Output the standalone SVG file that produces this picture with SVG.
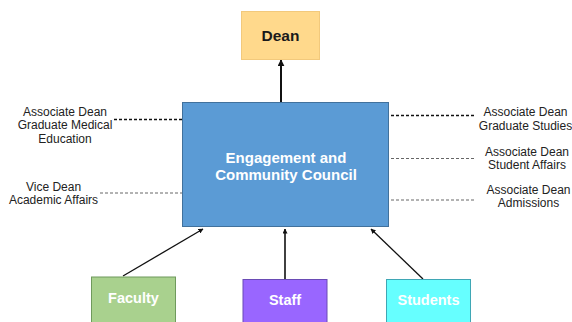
<svg xmlns="http://www.w3.org/2000/svg" width="572" height="322" viewBox="0 0 572 322">
  <style>
    .lbl { font-family: "Liberation Sans", Arial, sans-serif; font-size: 12px; fill: #222; text-anchor: middle; }
    .title { font-family: "Liberation Sans", Arial, sans-serif; font-weight: bold; text-anchor: middle; }
    .dash-dark { stroke: #111; stroke-width: 1.6; stroke-dasharray: 3 2; fill: none; }
    .dash-gray { stroke: #666; stroke-width: 1; stroke-dasharray: 3 2; fill: none; }
    .arrow { stroke: #111; fill: none; marker-end: url(#head); }
  </style>
  <defs>
    <marker id="head" viewBox="0 0 10 10" refX="9" refY="5" markerWidth="5" markerHeight="5" orient="auto" markerUnits="userSpaceOnUse">
      <path d="M0,0 L10,5 L0,10 z" fill="#111"/>
    </marker>
    <marker id="headBig" viewBox="0 0 10 10" refX="9" refY="5" markerWidth="7" markerHeight="7" orient="auto" markerUnits="userSpaceOnUse">
      <path d="M0,0 L10,5 L0,10 z" fill="#111"/>
    </marker>
  </defs>

  <rect width="572" height="322" fill="#fff"/>

  <!-- connectors -->
  <g id="connectors">
    <line x1="281" y1="102" x2="281" y2="60" stroke="#111" stroke-width="2" marker-end="url(#headBig)"/>
    <line class="arrow" x1="123" y1="276" x2="203" y2="229" stroke-width="1.3"/>
    <line class="arrow" x1="285" y1="279" x2="285" y2="229" stroke-width="1.6"/>
    <line class="arrow" x1="423" y1="279" x2="371" y2="229" stroke-width="1.3"/>
    <line class="dash-dark" x1="114" y1="119.5" x2="183" y2="119.5"/>
    <line class="dash-gray" x1="100" y1="193" x2="183" y2="193"/>
    <line class="dash-dark" x1="391" y1="115.5" x2="475" y2="115.5"/>
    <line class="dash-gray" x1="391" y1="158.5" x2="476" y2="158.5"/>
    <line class="dash-gray" x1="391" y1="200" x2="476" y2="200"/>
  </g>

  <g id="dean">
    <rect x="241.5" y="11.5" width="78" height="48" fill="#FFD98C" stroke="#F2C97C"/>
    <text class="title" x="280.5" y="41" font-size="15.5" fill="#1a1a1a">Dean</text>
  </g>

  <g id="council">
    <rect x="182.5" y="102.5" width="206" height="124" fill="#5B9BD5" stroke="#41719C"/>
    <text class="title" x="286" y="162.5" font-size="15" fill="#fff">Engagement and</text>
    <text class="title" x="286" y="180" font-size="15" fill="#fff">Community Council</text>
  </g>

  <g id="ad-gme">
    <text class="lbl" x="65" y="115.5">Associate Dean</text>
    <text class="lbl" x="65" y="129">Graduate Medical</text>
    <text class="lbl" x="65" y="142.5">Education</text>
  </g>

  <g id="vd-aa">
    <text class="lbl" x="53.5" y="191">Vice Dean</text>
    <text class="lbl" x="53.5" y="203.5">Academic Affairs</text>
  </g>

  <g id="ad-gs">
    <text class="lbl" x="525.5" y="116">Associate Dean</text>
    <text class="lbl" x="525.5" y="130">Graduate Studies</text>
  </g>

  <g id="ad-sa">
    <text class="lbl" x="527" y="155.5">Associate Dean</text>
    <text class="lbl" x="527" y="168.5">Student Affairs</text>
  </g>

  <g id="ad-adm">
    <text class="lbl" x="528.5" y="193.5">Associate Dean</text>
    <text class="lbl" x="528.5" y="207">Admissions</text>
  </g>

  <g id="faculty">
    <rect x="91.5" y="277" width="84" height="50" fill="#A9D18E" stroke="#6F9A5C"/>
    <text class="title" x="133.5" y="303" font-size="14.5" fill="#fff">Faculty</text>
  </g>

  <g id="staff">
    <rect x="243" y="279.5" width="84" height="50" fill="#9966FF" stroke="#6A4BB5"/>
    <text class="title" x="285" y="305" font-size="14.5" fill="#fff">Staff</text>
  </g>

  <g id="students">
    <rect x="386.5" y="279.5" width="84" height="50" fill="#66FFFF" stroke="#3FA7B5"/>
    <text class="title" x="428.5" y="305" font-size="14.5" fill="#fff">Students</text>
  </g>
</svg>
